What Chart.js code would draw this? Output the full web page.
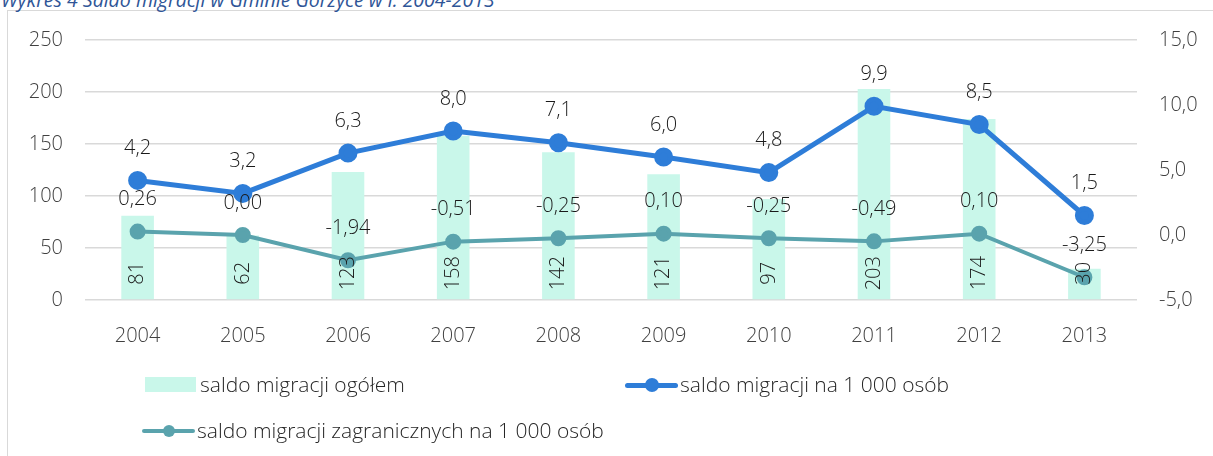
<!DOCTYPE html>
<html>
<head>
<meta charset="utf-8">
<script src="https://cdn.jsdelivr.net/npm/chart.js@4"></script>
<style>
  body { margin:0; background:#fff; width:1213px; height:456px; overflow:hidden; position:relative; font-family:"Open Sans", sans-serif; }
  #frame { position:absolute; left:7px; top:10px; width:1300px; height:600px; border:1.5px solid #d9d9d9; }
  #title { position:absolute; left:1px; top:-14px; font-size:19.5px; font-style:italic; color:#2f5597; white-space:nowrap; }
  #wrap { position:absolute; left:0; top:0; width:1213px; height:456px; }
  .leg { position:absolute; font-size:21px; font-weight:300; color:#262626; white-space:nowrap; line-height:22px; }
  .sw { position:absolute; }
</style>
</head>
<body>
<div id="frame"></div>
<div id="title">Wykres 4 Saldo migracji w Gminie Gorzyce w l. 2004-2013</div>
<div id="wrap"><canvas id="chart" width="1213" height="456"></canvas></div>
<div id="legend"></div>
<script>
const years = ["2004","2005","2006","2007","2008","2009","2010","2011","2012","2013"];
const saldoOgolem = [81, 62, 123, 158, 142, 121, 97, 203, 174, 30];
const saldoNa1000 = [4.2, 3.2, 6.3, 8.0, 7.1, 6.0, 4.8, 9.9, 8.5, 1.5];
const saldoZagr = [0.26, 0.00, -1.94, -0.51, -0.25, 0.10, -0.25, -0.49, 0.10, -3.25];

const seriesNames = ["saldo migracji ogółem", "saldo migracji na 1 000 osób", "saldo migracji zagranicznych na 1 000 osób"];
const colBar = "#c9f7ea";
const colBlue = "#2e7dd8";
const colTeal = "#5aa3ad";
const fontFam = "'Open Sans', sans-serif";
const tickFont = { family:fontFam, size:20, weight:300 };

function comma(v, d){ return v.toFixed(d).replace('.', ','); }

// value labels drawn on top of the marks
const valueLabels = {
  id: 'valueLabels',
  afterDatasetsDraw(chart){
    const ctx = chart.ctx;
    ctx.save();
    ctx.font = "300 20px " + fontFam;
    ctx.fillStyle = "#1a1a1a";
    ctx.textAlign = "center";
    ctx.textBaseline = "middle";
    chart.data.datasets.forEach((ds, i) => {
      const meta = chart.getDatasetMeta(i);
      meta.data.forEach((el, j) => {
        const v = ds.data[j];
        if (ds.type === 'bar') {
          ctx.save();
          ctx.translate(el.x, el.base - 26);
          ctx.rotate(-Math.PI/2);
          ctx.fillText(String(v), 0, 0);
          ctx.restore();
        } else {
          ctx.fillText(comma(v, ds.decimals), el.x, el.y - 32);
        }
      });
    });
    ctx.restore();
  }
};

new Chart(document.getElementById("chart"), {
  data: {
    labels: years,
    datasets: [
      { type:'bar', label: seriesNames[0], data: saldoOgolem, backgroundColor: colBar,
        yAxisID:'y', barPercentage:0.31, categoryPercentage:1, order:3 },
      { type:'line', label: seriesNames[1], data: saldoNa1000, borderColor: colBlue, backgroundColor: colBlue,
        borderWidth:5, pointRadius:7, pointHoverRadius:7, yAxisID:'y1', order:1, decimals:1 },
      { type:'line', label: seriesNames[2], data: saldoZagr, borderColor: colTeal, backgroundColor: colTeal,
        borderWidth:4, pointRadius:6, pointHoverRadius:6, yAxisID:'y1', order:2, decimals:2 }
    ]
  },
  options: {
    responsive:false,
    animation:false,
    layout: { padding: { top:40, left:0, right:0, bottom:0 } },
    plugins: { legend:{ display:false }, tooltip:{ enabled:false } },
    scales: {
      x: {
        grid:{ display:false }, border:{ display:false },
        ticks:{ color:"#404040", font:tickFont, padding:16, maxRotation:0 },
        afterFit(a){ a.height = 156; }
      },
      y: {
        position:'left', min:0, max:250,
        grid:{ color:"#d9d9d9", lineWidth:1.5, drawTicks:false }, border:{ display:false },
        ticks:{ stepSize:50, color:"#404040", font:tickFont, padding:22 },
        afterFit(a){ a.width = 85; }
      },
      y1: {
        position:'right', min:-5, max:15,
        grid:{ drawOnChartArea:false, drawTicks:false }, border:{ display:false },
        ticks:{ stepSize:5, color:"#404040", font:tickFont, padding:22,
          callback: v => comma(v, 1) },
        afterFit(a){ a.width = 76; }
      }
    }
  },
  plugins:[valueLabels]
});

// legend laid out like the original two-column block
const legend = document.getElementById("legend");
const legItems = [
  { name: seriesNames[0], kind:'bar', color: colBar, x:145, y:385 },
  { name: seriesNames[1], kind:'line', color: colBlue, x:625, y:385, lw:5, r:7 },
  { name: seriesNames[2], kind:'line', color: colTeal, x:142, y:431, lw:4, r:6 }
];
legItems.forEach(it => {
  const w = 53;
  if (it.kind === 'bar') {
    const s = document.createElement('div');
    s.className = 'sw';
    s.style.cssText = `left:${it.x}px;top:${it.y-8}px;width:${w-2}px;height:15px;background:${it.color}`;
    legend.appendChild(s);
  } else {
    const l = document.createElement('div');
    l.className = 'sw';
    l.style.cssText = `left:${it.x}px;top:${it.y-it.lw/2}px;width:${w}px;height:${it.lw}px;background:${it.color};border-radius:3px`;
    legend.appendChild(l);
    const d = document.createElement('div');
    d.className = 'sw';
    d.style.cssText = `left:${it.x+w/2-it.r}px;top:${it.y-it.r}px;width:${it.r*2}px;height:${it.r*2}px;background:${it.color};border-radius:50%`;
    legend.appendChild(d);
  }
  const t = document.createElement('div');
  t.className = 'leg';
  t.textContent = it.name;
  t.style.left = (it.x + w + 2) + 'px';
  t.style.top = (it.y - 12) + 'px';
  legend.appendChild(t);
});
</script>
</body>
</html>
